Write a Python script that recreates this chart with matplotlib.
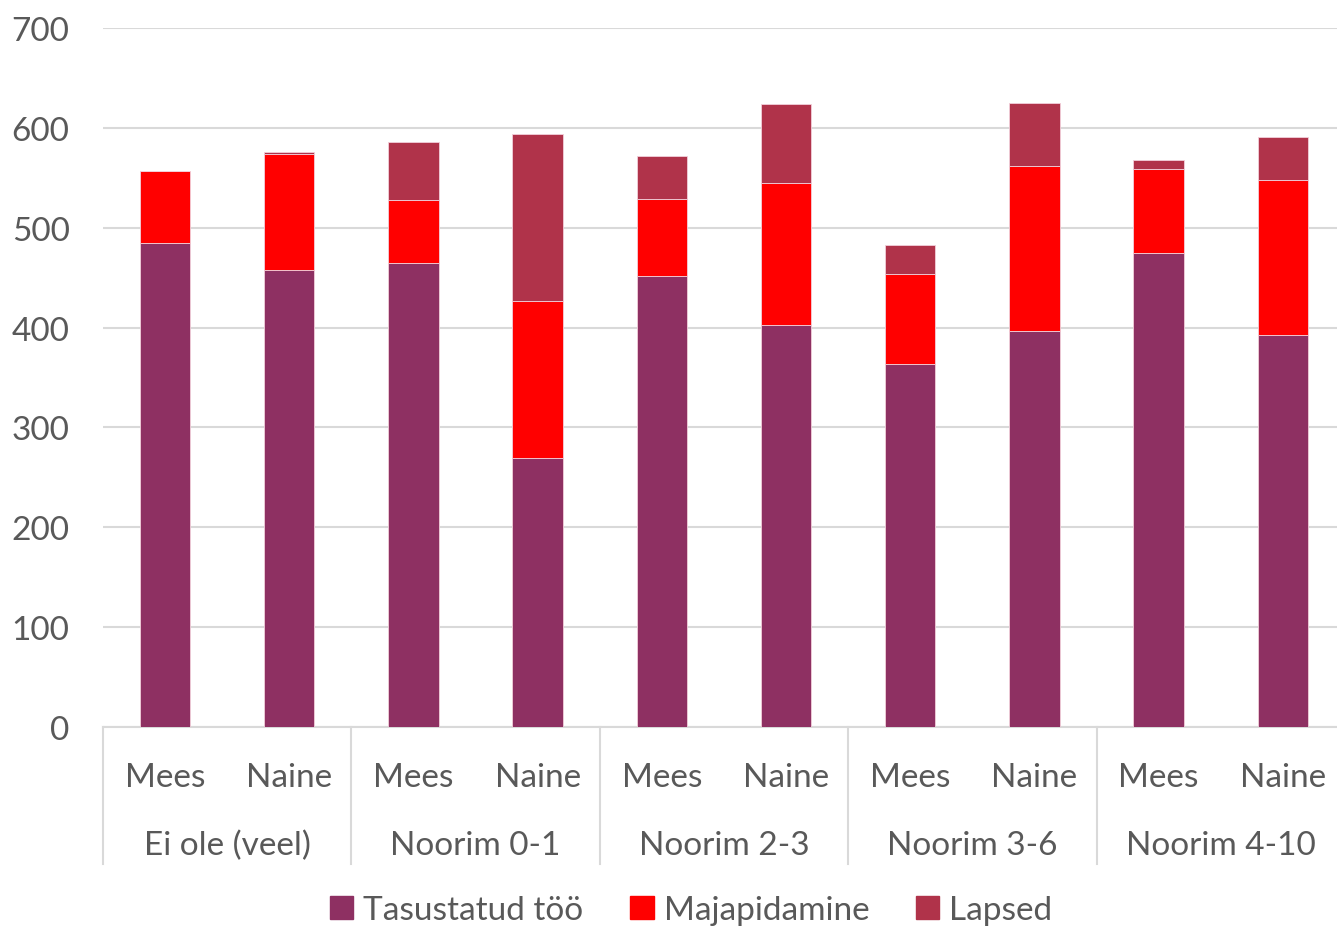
import matplotlib
matplotlib.use("Agg")
import matplotlib.pyplot as plt
import matplotlib.patches as mpatches
import matplotlib.transforms as mtransforms
import numpy as np

plt.rcParams['font.family'] = ['Lato', 'DejaVu Sans']

# Andmed
groups = ['Ei ole (veel)', 'Noorim 0-1', 'Noorim 2-3', 'Noorim 3-6', 'Noorim 4-10']
sexes = ['Mees', 'Naine']
tasustatud = [485, 458, 465, 269, 452, 403, 364, 397, 475, 393]
majapidamine = [72, 116, 63, 158, 77, 142, 90, 165, 84, 155]
lapsed = [0, 2, 58, 167, 43, 79, 29, 63, 9, 43]
series_names = ['Tasustatud töö', 'Majapidamine', 'Lapsed']

COLORS = ['#8E3062', '#FF0000', '#B0334A']
TEXT = '#595959'
GRID = '#D9D9D9'

fig = plt.figure(figsize=(13.37, 9.28), dpi=100)
ax_h = 0.7533
ax = fig.add_axes([0.077, 0.2155, 1242 / 1337, ax_h])

x = np.arange(len(tasustatud))
width = 0.405
bottom = np.zeros(len(x))
for vals, color, name in zip([tasustatud, majapidamine, lapsed], COLORS, series_names):
    ax.bar(x, vals, width, bottom=bottom, color=color, edgecolor='#F2D0DA',
           linewidth=0.6, label=name, zorder=3)
    bottom += np.array(vals)

ax.set_xlim(-0.5, len(x) - 0.5)
ax.set_ylim(0, 700)
ax.set_yticks(range(0, 701, 100))
ax.yaxis.grid(True, color=GRID, linewidth=1.5, zorder=0)
ax.tick_params(axis='y', length=0, pad=24, labelsize=24, labelcolor=TEXT)
ax.tick_params(axis='x', length=0, pad=25, labelsize=24, labelcolor=TEXT)
ax.set_xticks(x)
ax.set_xticklabels(sexes * len(groups))

for side in ['top', 'right', 'left']:
    ax.spines[side].set_visible(False)
ax.spines['bottom'].set_color(GRID)
ax.spines['bottom'].set_linewidth(1.5)

# Rühmade sildid ja eraldusjooned
trans = mtransforms.blended_transform_factory(ax.transData, ax.transAxes)
sep_bottom = -(865 - 728) / (ax_h * 928)
for i, g in enumerate(groups):
    ax.text(2 * i + 0.5, -(846 - 728) / (ax_h * 928), g, transform=trans,
            ha='center', va='center', fontsize=24, color=TEXT)
for b in np.arange(-0.5, len(x), 2):
    ax.plot([b, b], [0, sep_bottom], transform=trans, color=GRID,
            linewidth=1.5, clip_on=False)

handles = [mpatches.Patch(color=c, label=n) for c, n in zip(COLORS, series_names)]
fig.legend(handles=handles, loc='center', bbox_to_anchor=(0.517, 1 - 911 / 928),
           ncol=3, frameon=False, fontsize=24, labelcolor=TEXT,
           handlelength=0.7, handleheight=0.7, handletextpad=0.3, columnspacing=1.4)

fig.savefig('out.png', dpi=100)
